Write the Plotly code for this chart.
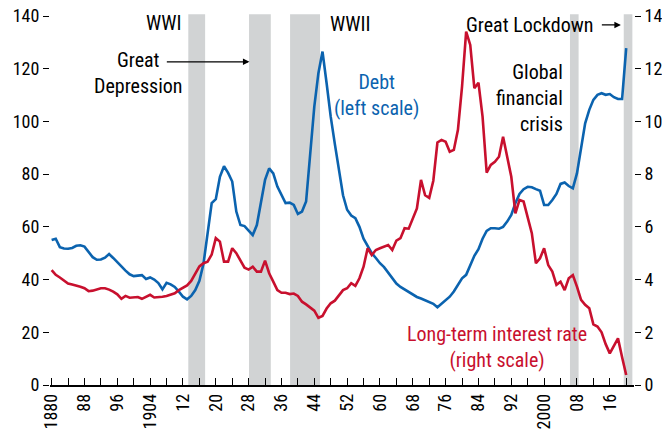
import plotly.graph_objects as go

years = list(range(1880, 2021))

# public debt, percent of GDP (left scale)
debt = [
    55.0, 55.5, 52.3, 51.8, 51.7, 52.0, 52.8, 53.0, 52.5, 50.5,
    48.5, 47.5, 47.6, 48.3, 49.7, 48.2, 46.5, 45.0, 43.4, 42.0,
    41.3, 41.5, 41.7, 40.2, 40.8, 40.0, 38.7, 36.3, 38.8, 38.2,
    37.2, 35.4, 33.5, 32.5, 33.8, 36.0, 39.5, 46.0, 57.0, 69.0,
    70.5, 79.0, 83.0, 80.5, 77.2, 65.8, 60.7, 60.3, 58.6, 56.9,
    60.7, 69.0, 77.8, 82.2, 80.3, 75.3, 72.0, 69.0, 69.2, 68.3,
    64.9, 65.8, 69.6, 89.2, 105.6, 118.3, 126.5, 114.5, 101.8, 91.5,
    81.0, 72.0, 66.5, 64.3, 63.3, 60.0, 55.5, 52.5, 50.0, 48.2,
    46.2, 44.7, 42.5, 40.5, 38.5, 37.2, 36.2, 35.5, 34.5, 33.4,
    32.8, 32.2, 31.5, 30.8, 29.5, 30.8, 32.3, 33.5, 35.5, 38.2,
    40.5, 41.8, 45.3, 49.0, 51.5, 55.5, 58.5, 59.5, 59.5, 59.3,
    60.0, 62.0, 64.5, 69.0, 72.5, 74.3, 75.2, 75.0, 74.3, 73.7,
    68.3, 68.3, 70.2, 72.5, 76.3, 76.8, 75.5, 74.6, 80.3, 90.4,
    99.3, 104.4, 108.2, 110.1, 110.7, 110.1, 110.4, 109.2, 108.5, 108.5,
    127.8,
]

# long-term interest rate, percent (right scale)
rate = [
    4.36, 4.18, 4.08, 3.95, 3.85, 3.81, 3.78, 3.73, 3.67, 3.56,
    3.58, 3.63, 3.67, 3.67, 3.62, 3.54, 3.44, 3.27, 3.38, 3.31,
    3.33, 3.34, 3.27, 3.33, 3.42, 3.32, 3.33, 3.35, 3.38, 3.43,
    3.48, 3.60, 3.70, 3.78, 3.95, 4.20, 4.50, 4.62, 4.68, 4.95,
    5.57, 5.44, 4.68, 4.68, 5.19, 5.00, 4.70, 4.45, 4.38, 4.49,
    4.30, 4.30, 4.72, 4.24, 3.92, 3.60, 3.50, 3.50, 3.45, 3.47,
    3.38, 3.16, 3.06, 2.93, 2.82, 2.55, 2.62, 2.90, 3.10, 3.20,
    3.40, 3.60, 3.67, 3.86, 3.76, 4.05, 4.49, 5.19, 4.93, 5.12,
    5.19, 5.25, 5.31, 5.12, 5.48, 5.57, 5.95, 5.93, 6.30, 6.70,
    7.78, 7.20, 7.10, 7.75, 9.20, 9.30, 9.23, 8.85, 8.92, 9.68,
    11.32, 13.41, 12.90, 11.26, 11.47, 10.18, 8.06, 8.35, 8.47, 8.66,
    9.42, 8.66, 7.90, 6.51, 7.02, 6.96, 6.39, 5.76, 4.62, 4.81,
    5.19, 4.55, 4.30, 3.80, 3.92, 3.60, 4.05, 4.17, 3.73, 3.23,
    3.04, 2.91, 2.30, 2.22, 2.00, 1.55, 1.20, 1.50, 1.77, 1.05,
    0.38,
]

# shaded episodes (start, end)
episodes = {
    "WWI": (1913.3, 1917.4),
    "Great Depression": (1928.1, 1933.4),
    "WWII": (1938.1, 1945.4),
    "Global financial crisis": (2006.3, 2008.4),
    "Great Lockdown": (2019.4, 2021.5),
}

tick_years = list(range(1880, 2021, 4))
tick_text = []
for y in tick_years:
    if (y - 1880) % 8:
        tick_text.append("")
    elif y in (1880, 1904, 2000):
        tick_text.append(str(y))
    else:
        tick_text.append(str(y)[2:])

BLUE = "#0B63AF"
RED = "#C8102E"
GREY = "#D1D3D4"
FONT = "Roboto Condensed, Liberation Sans Narrow, Liberation Sans, Arial, sans-serif"

fig = go.Figure()
fig.add_trace(go.Scatter(x=years, y=debt, mode="lines", line=dict(color=BLUE, width=2.6), name="Debt"))
fig.add_trace(go.Scatter(x=years, y=rate, mode="lines", line=dict(color=RED, width=2.6),
                         name="Long-term interest rate", yaxis="y2"))

for x0, x1 in episodes.values():
    fig.add_shape(type="rect", xref="x", yref="paper", x0=x0, x1=x1, y0=0, y1=1.005,
                  fillcolor=GREY, line_width=0, layer="below")

txt = dict(size=20, color="black", family=FONT)
fig.add_annotation(x=1912.0, y=137.5, text="WWI", showarrow=False, xanchor="right", font=txt)
fig.add_annotation(x=1901.1, y=118.3, text="Great<br>Depression", showarrow=False, font=txt)
fig.add_annotation(x=1928.2, y=122.6, ax=1907.7, ay=122.6, axref="x", ayref="y", text="",
                   showarrow=True, arrowhead=2, arrowsize=1, arrowwidth=1.3, arrowcolor="black")
fig.add_annotation(x=1947.4, y=137.0, text="WWII", showarrow=False, xanchor="left", font=txt)
fig.add_annotation(x=1959.1, y=110.2, text="Debt<br>(left scale)", showarrow=False,
                   font=dict(txt, color=BLUE))
fig.add_annotation(x=2005.2, y=108.9, text="Global<br>financial<br>crisis", showarrow=False,
                   xanchor="right", align="right", font=txt)
fig.add_annotation(x=2012.5, y=136.6, text="Great Lockdown", showarrow=False, xanchor="right", font=txt)
fig.add_annotation(x=2018.7, y=136.6, ax=2013.7, ay=136.6, axref="x", ayref="y", text="",
                   showarrow=True, arrowhead=2, arrowsize=1, arrowwidth=1.3, arrowcolor="black")
fig.add_annotation(x=1988.6, y=14.6, text="Long-term interest rate<br>(right scale)", showarrow=False,
                   font=dict(txt, color=RED))

fig.update_layout(
    width=662,
    height=442,
    margin=dict(l=50, r=28, t=16, b=57),
    plot_bgcolor="white",
    paper_bgcolor="white",
    showlegend=False,
    font=dict(family=FONT, size=18, color="black"),
    xaxis=dict(
        range=[1879.6, 2021.9],
        tickvals=tick_years,
        ticktext=tick_text,
        tickangle=-90,
        ticks="inside",
        ticklen=7,
        tickcolor="black",
        showline=True,
        linecolor="black",
        linewidth=1.5,
        showgrid=False,
        zeroline=False,
        automargin=False,
    ),
    yaxis=dict(
        range=[0, 140],
        dtick=20,
        ticks="outside",
        ticklen=6,
        tickcolor="black",
        ticklabeloverflow="allow",
        showline=False,
        showgrid=False,
        zeroline=False,
        automargin=False,
    ),
    yaxis2=dict(
        range=[0, 14],
        dtick=2,
        overlaying="y",
        side="right",
        ticks="outside",
        ticklen=6,
        tickcolor="black",
        ticklabeloverflow="allow",
        showline=False,
        showgrid=False,
        zeroline=False,
        automargin=False,
    ),
)

# drop the browser's default page margin so the figure sits flush in the window
fig.write_html(
    "out.html",
    config={"displayModeBar": False},
    post_script="document.body.style.margin = '0';",
)
